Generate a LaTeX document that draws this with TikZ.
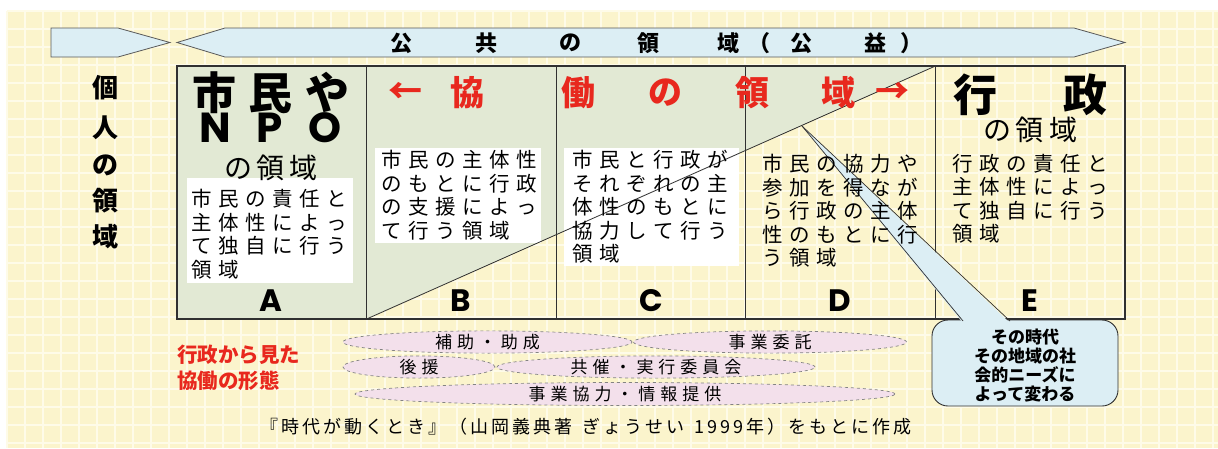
\documentclass[tikz,border=0pt]{standalone}
\usepackage{fontspec}
\newfontfamily\jp{Noto Sans CJK JP}
\newfontfamily\geo{Poppins}
\usetikzlibrary{shapes.geometric}
\definecolor{cream}{HTML}{FBF4CC}
\definecolor{gridc}{HTML}{FEFBE8}
\definecolor{cellg}{HTML}{E2E9D4}
\definecolor{bandb}{HTML}{DCEEF4}
\definecolor{redt}{HTML}{E8281E}
\definecolor{pinkf}{HTML}{F3E0EB}
\definecolor{linec}{HTML}{303030}
\newlength\trksep
\def\trk#1#2{\setlength\trksep{#1}\trkaux#2\relax}
\def\trkaux#1{\ifx#1\relax\unskip\else#1\hspace{\trksep}\expandafter\trkaux\fi}
\tikzset{
  gridline/.style={draw=gridc, line width=2.5pt},
  band/.style={fill=bandb, draw=linec!80, line width=0.8pt},
  boxline/.style={draw=linec, line width=1.1pt},
  vt/.style={font=\jp\bfseries\fontsize{26}{26}\selectfont, inner sep=0pt},
  bt/.style={font=\jp\bfseries\fontsize{22}{22}\selectfont, inner sep=0pt},
  bigt/.style={font=\jp\bfseries\fontsize{44}{44}\selectfont, inner sep=0pt},
  lett/.style={font=\geo\bfseries\fontsize{42}{42}\selectfont, inner sep=0pt},
  abc/.style={font=\geo\bfseries\fontsize{31}{31}\selectfont, inner sep=0pt},
  medt/.style={font=\jp\fontsize{28}{28}\selectfont, inner sep=0pt},
  redh/.style={font=\jp\bfseries\fontsize{34}{34}\selectfont, text=redt, inner sep=0pt},
  celltxt/.style={font=\jp\fontsize{20.5}{23.5}\selectfont, align=left, anchor=north west, inner sep=0pt},
  whitebox/.style={fill=white},
  callout/.style={fill=bandb, draw=linec, line width=0.9pt, rounded corners=16pt},
  calltxt/.style={font=\jp\bfseries\fontsize{17}{19}\selectfont, align=center, inner sep=0pt},
  redl/.style={font=\jp\bfseries\fontsize{20.5}{26}\selectfont, text=redt, align=left, anchor=west, inner sep=0pt},
  ell/.style={ellipse, draw=linec!60, dashed, line width=0.7pt, fill=pinkf, inner sep=0pt,
    font=\jp\fontsize{17}{17}\selectfont},
  foot/.style={font=\jp\fontsize{18}{18}\selectfont, inner sep=0pt},
}
\begin{document}
\begin{tikzpicture}[x=1pt,y=-1pt]
\useasboundingbox (0,0) rectangle (1218,448);
% background
\fill[white] (0,0) rectangle (1218,448);
\fill[cream] (7,11) rectangle (1218,448);
\foreach \gx in {7,25,...,1218} \draw[gridline] (\gx,11) -- (\gx,448);
\foreach \gy in {11,29,...,448} \draw[gridline] (7,\gy) -- (1218,\gy);
% top band
\draw[band] (51,28) -- (118,28) -- (170,42.5) -- (118,57) -- (51,57) -- cycle;
\draw[band] (177,42.5) -- (225,28) -- (1074,28) -- (1125,42.5) -- (1074,57) -- (225,57) -- cycle;
\node[bt] (t1) at (401,43) {公};
\node[bt] (t2) at (486,43) {共};
\node[bt] (t3) at (570,43) {の};
\node[bt] (t4) at (648,43) {領};
\node[bt] (t5) at (728,43) {域};
\node[bt] (t6) at (759,43) {（};
\node[bt] (t7) at (801,43) {公};
\node[bt] (t8) at (875,43) {益};
\node[bt] (t9) at (911,43) {）};
% left vertical text
\node[vt] (v1) at (105,88) {個};
\node[vt] (v2) at (105,128) {人};
\node[vt] (v3) at (105,165) {の};
\node[vt] (v4) at (105,201) {領};
\node[vt] (v5) at (105,237) {域};
% main box fills
\fill[cellg] (177,66) rectangle (366.6,319);
\fill[cellg] (366.6,66) -- (935.4,66) -- (366.6,319) -- cycle;
\fill[whitebox] (187,178) rectangle (353,283);
\fill[whitebox] (375,148) rectangle (541,243);
\fill[whitebox] (564,148) rectangle (739,266);
% main box lines
\draw[boxline] (177,66) rectangle (1125,319);
\foreach \cx in {366.6,556.2,745.8,935.4} \draw[boxline] (\cx,66) -- (\cx,319);
\draw[draw=linec, line width=0.8pt] (366.6,319) -- (935.4,66);
% callout
\draw[callout] (932,320) rectangle (1118,406);
\fill[bandb] (802,126) -- (963,323) -- (1010,323) -- cycle;
\draw[draw=linec, line width=0.7pt] (802,126) -- (963,321);
\draw[draw=linec, line width=0.7pt] (802,126) -- (1010,321);
\node[calltxt] (ct) at (1025,365.5) {その時代\\その地域の社\\会的ニーズに\\よって変わる};
% column A header
\node[bigt] (ah) at (271,93) {\trk{13pt}{市民や}};
\node[lett] (an) at (215,128) {N};
\node[lett] (ap) at (270,128) {P};
\node[lett] (ao) at (325,128) {O};
\node[medt] (ar) at (271,168) {\trk{5pt}{の領域}};
% red header
\node[redh] (r1) at (405,93) {←};
\node[redh] (r2) at (467,93) {協};
\node[redh] (r3) at (578,93) {働};
\node[redh] (r4) at (665,93) {の};
\node[redh] (r5) at (752,93) {領};
\node[redh] (r6) at (838,93) {域};
\node[redh] (r7) at (892,93) {→};
% column E header
\node[bigt] (e1) at (975,95) {行};
\node[bigt] (e2) at (1085,95) {政};
\node[medt] (er) at (1030,130) {\trk{5pt}{の領域}};
% cell texts
\node[celltxt] (ta) at (191,189) {\trk{6.5pt}{市民の責任と}\\\trk{6.5pt}{主体性によっ}\\\trk{6.5pt}{て独自に行う}\\\trk{6.5pt}{領域}};
\node[celltxt] (tb) at (381,150) {\trk{6.5pt}{市民の主体性}\\\trk{6.5pt}{のもとに行政}\\\trk{6.5pt}{の支援によっ}\\\trk{6.5pt}{て行う領域}};
\node[celltxt] (tc) at (572,150) {\trk{6.5pt}{市民と行政が}\\\trk{6.5pt}{それぞれの主}\\\trk{6.5pt}{体性のもとに}\\\trk{6.5pt}{協力して行う}\\\trk{6.5pt}{領域}};
\node[celltxt] (td) at (762,154) {\trk{6.5pt}{市民の協力や}\\\trk{6.5pt}{参加を得なが}\\\trk{6.5pt}{ら行政の主体}\\\trk{6.5pt}{性のもとに行}\\\trk{6.5pt}{う領域}};
\node[celltxt] (te) at (952,154) {\trk{6.5pt}{行政の責任と}\\\trk{6.5pt}{主体性によっ}\\\trk{6.5pt}{て独自に行う}\\\trk{6.5pt}{領域}};
% letters
\node[abc] (la) at (271,301) {A};
\node[abc] (lb) at (461,301) {B};
\node[abc] (lc) at (651,301) {C};
\node[abc] (ld) at (840,301) {D};
\node[abc] (le) at (1030,301) {E};
% forms of collaboration
\node[redl] (rl) at (177,368) {行政から見た\\協働の形態};
\node[ell, minimum width=289pt, minimum height=21pt] (f1) at (487.5,342) {\trk{5pt}{補助・助成}};
\node[ell, minimum width=273pt, minimum height=21pt] (f2) at (770,342) {\trk{5pt}{事業委託}};
\node[ell, minimum width=152pt, minimum height=22pt] (f3) at (419,367) {\trk{5pt}{後援}};
\node[ell, minimum width=318pt, minimum height=22pt] (f4) at (656,367) {\trk{5pt}{共催・実行委員会}};
\node[ell, minimum width=540pt, minimum height=23pt] (f5) at (625,394) {\trk{5pt}{事業協力・情報提供}};
% footer
\node[foot] (ft) at (586,427) {\trk{3pt}{『時代が動くとき』（山岡義典著~ぎょうせい~1999年）をもとに作成}};
\end{tikzpicture}
\end{document}
